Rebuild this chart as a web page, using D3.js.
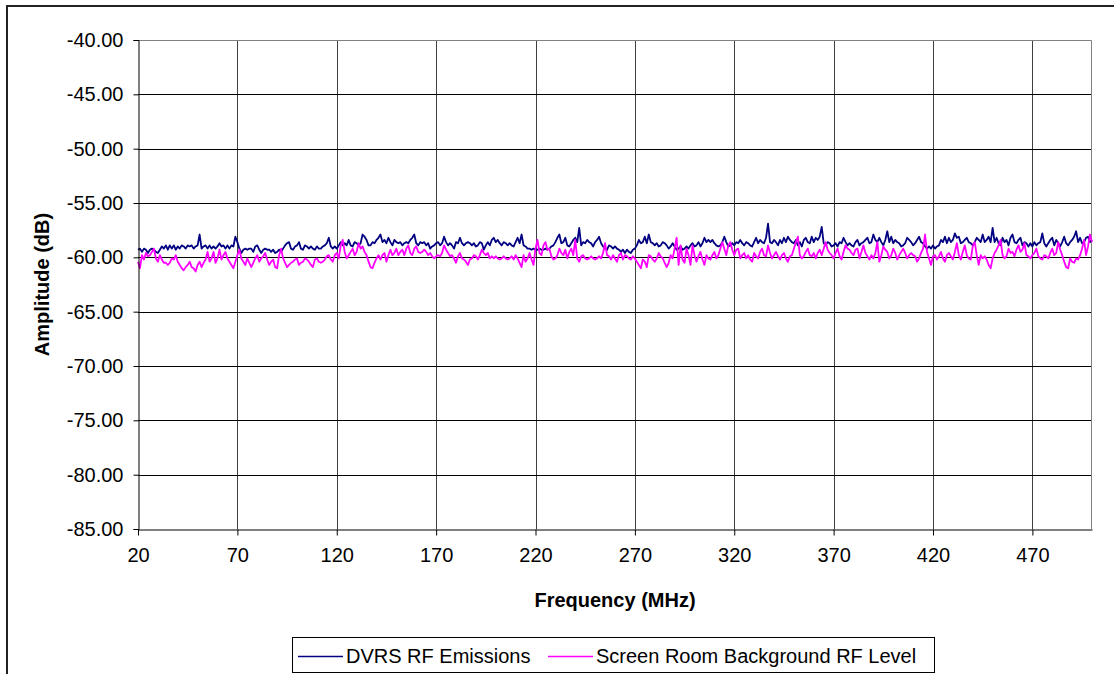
<!DOCTYPE html>
<html><head><meta charset="utf-8">
<script src="https://cdn.jsdelivr.net/npm/d3@7"></script>
<style>
body{margin:0;background:#fff}
svg{display:block}
text{font-family:"Liberation Sans",Arial,sans-serif;fill:#000}
</style>
</head><body>
<svg id="chart" width="1114" height="674"></svg>
<script>
// Frequency axis: one reading per MHz from 20 to 500 MHz
const freqStart = 20;
const freqStep = 1;

// DVRS RF Emissions (dB), 20..500 MHz
const dvrs = [
-59.3,-59.2,-59.5,-59.2,-59.3,-59.6,-59.3,-59.2,-59.3,-59.5,
-59.6,-59.3,-59.0,-59.2,-58.9,-59.3,-58.9,-59.2,-58.9,-59.3,
-59.0,-59.2,-58.9,-59.0,-59.2,-58.9,-59.0,-58.9,-59.2,-59.0,
-58.9,-57.9,-59.2,-59.0,-58.9,-59.2,-58.9,-59.2,-59.0,-59.2,
-59.0,-58.7,-59.0,-58.9,-59.2,-58.9,-59.2,-58.9,-59.0,-58.1,
-58.6,-59.2,-59.6,-59.3,-59.2,-59.3,-59.2,-59.2,-59.5,-59.0,
-58.9,-59.3,-59.6,-59.3,-59.2,-59.3,-59.3,-59.5,-59.3,-59.6,
-59.5,-59.3,-59.5,-59.2,-58.9,-58.7,-58.6,-59.2,-59.3,-59.0,
-58.9,-58.6,-59.2,-59.3,-58.9,-59.0,-59.2,-59.0,-59.2,-59.3,
-59.0,-59.2,-59.2,-59.0,-58.9,-58.7,-58.2,-59.0,-59.2,-59.0,
-59.2,-58.9,-58.6,-58.9,-58.7,-58.9,-58.4,-58.9,-59.0,-58.6,
-58.7,-58.9,-58.7,-57.9,-58.1,-58.4,-58.9,-58.9,-58.6,-58.7,
-58.4,-58.2,-57.9,-58.6,-58.4,-58.7,-58.2,-58.6,-58.9,-58.4,
-58.6,-58.7,-58.6,-58.9,-58.7,-58.6,-58.7,-58.4,-58.2,-57.9,
-58.7,-58.9,-58.6,-58.7,-58.6,-58.9,-58.7,-59.2,-59.0,-58.9,
-58.7,-58.6,-58.9,-58.7,-58.1,-58.6,-58.9,-58.7,-58.9,-59.2,
-58.6,-58.7,-58.2,-58.7,-58.9,-58.7,-58.6,-58.7,-58.9,-58.7,
-59.0,-58.9,-58.6,-58.7,-59.3,-58.9,-58.6,-58.9,-58.4,-58.2,
-58.6,-58.4,-58.7,-58.9,-58.6,-58.7,-58.9,-58.7,-58.9,-59.0,
-58.6,-58.2,-58.7,-57.9,-58.9,-59.0,-59.2,-59.2,-59.3,-59.2,
-59.3,-59.3,-59.2,-59.3,-59.3,-59.2,-59.3,-59.2,-59.0,-58.9,
-58.6,-58.2,-57.9,-58.7,-58.6,-58.2,-58.9,-59.0,-58.7,-58.4,
-58.2,-58.6,-57.3,-58.9,-58.6,-58.7,-58.4,-58.6,-58.7,-59.0,
-58.6,-58.4,-58.1,-58.7,-59.0,-59.2,-59.3,-58.9,-59.0,-59.2,
-59.0,-59.2,-59.3,-59.5,-59.3,-59.6,-59.3,-59.5,-59.6,-59.3,
-59.2,-58.9,-58.4,-58.7,-58.6,-58.1,-58.7,-57.9,-58.6,-58.7,
-58.9,-58.7,-59.0,-58.9,-58.6,-58.7,-58.9,-59.2,-59.0,-58.7,
-59.0,-59.3,-59.2,-59.0,-59.3,-59.2,-59.0,-59.2,-58.9,-58.7,
-59.0,-58.9,-58.6,-59.0,-58.7,-58.2,-58.6,-58.4,-58.6,-58.4,
-58.7,-58.9,-59.0,-58.9,-58.6,-58.1,-58.6,-59.0,-58.9,-58.7,
-58.9,-58.6,-58.7,-58.4,-58.7,-58.9,-58.6,-58.7,-58.9,-59.0,
-58.6,-58.2,-58.7,-58.4,-58.6,-58.7,-58.2,-56.9,-58.6,-58.7,
-58.4,-58.6,-58.9,-58.4,-58.7,-58.2,-58.6,-58.1,-58.4,-58.6,
-58.7,-58.4,-58.9,-58.6,-59.0,-58.4,-58.2,-58.6,-58.7,-58.1,
-58.6,-58.2,-58.4,-58.1,-57.2,-58.7,-58.9,-58.6,-58.7,-59.0,
-58.9,-58.7,-59.0,-58.6,-58.7,-58.2,-58.6,-58.9,-58.7,-58.9,
-59.0,-58.6,-58.4,-58.9,-58.7,-58.6,-58.4,-58.2,-58.7,-58.6,
-57.9,-58.4,-58.6,-58.2,-58.6,-58.9,-58.4,-57.6,-58.6,-58.1,
-58.7,-58.4,-58.6,-58.7,-59.0,-58.9,-58.7,-58.2,-58.4,-58.6,
-58.9,-58.7,-58.4,-58.1,-58.6,-58.7,-59.0,-59.2,-59.0,-59.2,
-58.9,-59.2,-59.0,-58.9,-58.4,-58.6,-58.1,-58.7,-58.2,-58.6,
-58.4,-57.8,-58.2,-58.1,-58.7,-58.6,-58.4,-58.2,-58.6,-58.7,
-58.9,-58.6,-58.2,-58.4,-58.6,-57.9,-58.6,-58.4,-58.1,-58.6,
-57.3,-58.6,-58.2,-58.7,-58.9,-58.2,-58.6,-58.4,-58.9,-58.2,
-57.9,-58.6,-58.7,-58.4,-58.2,-58.9,-58.6,-58.7,-59.0,-58.7,
-59.0,-58.6,-58.9,-58.7,-58.6,-57.8,-58.7,-59.0,-58.7,-58.4,
-58.2,-58.9,-58.4,-58.7,-59.0,-58.6,-58.1,-58.7,-58.9,-58.6,
-58.4,-58.1,-57.6,-58.6,-58.2,-58.7,-58.6,-58.2,-58.1,-58.6,
-58.4
];

// Screen Room Background RF Level (dB), 20..500 MHz
const background = [
-60.4,-61.0,-59.8,-60.2,-59.6,-59.9,-59.8,-59.5,-59.2,-60.1,
-60.4,-59.8,-60.2,-60.5,-60.5,-60.7,-60.5,-60.1,-60.2,-59.8,
-60.4,-60.7,-61.0,-61.2,-60.9,-60.7,-60.4,-60.9,-61.0,-61.3,
-60.7,-60.4,-60.9,-60.5,-60.2,-59.5,-60.4,-60.1,-59.5,-60.5,
-60.1,-59.3,-60.2,-59.8,-59.5,-60.1,-60.4,-60.7,-61.0,-60.4,
-59.8,-59.3,-60.1,-60.4,-60.7,-60.1,-60.5,-60.9,-60.5,-60.1,
-59.8,-60.4,-60.1,-59.9,-59.6,-60.2,-60.7,-60.4,-60.2,-60.9,
-61.0,-59.8,-59.2,-60.1,-60.5,-60.9,-60.7,-60.5,-60.4,-60.2,
-60.1,-60.7,-60.5,-60.4,-60.1,-60.2,-60.4,-60.7,-60.9,-60.2,
-60.1,-60.4,-60.5,-60.4,-60.2,-59.9,-59.8,-60.2,-60.4,-59.8,
-59.6,-60.1,-58.9,-58.4,-59.5,-60.1,-59.8,-59.5,-59.2,-59.8,
-59.5,-58.7,-59.2,-59.0,-59.5,-59.8,-60.4,-60.9,-61.0,-60.5,
-60.1,-59.8,-60.2,-59.8,-59.6,-60.4,-59.8,-59.3,-59.8,-59.6,
-59.2,-59.8,-59.5,-59.3,-59.8,-59.2,-58.9,-59.6,-59.8,-59.2,
-59.0,-59.5,-59.6,-59.5,-59.3,-59.5,-59.8,-59.6,-59.9,-60.1,
-59.9,-59.8,-59.9,-59.6,-58.9,-59.3,-59.6,-59.9,-59.8,-60.1,
-60.5,-59.9,-59.6,-60.1,-60.2,-60.4,-60.7,-60.2,-60.1,-59.8,
-59.9,-60.2,-59.8,-59.3,-59.6,-59.8,-59.6,-60.1,-59.9,-60.1,
-59.9,-60.1,-60.2,-60.1,-59.9,-60.1,-60.2,-60.1,-59.9,-60.2,
-59.8,-60.1,-60.5,-60.9,-59.8,-60.4,-60.1,-59.6,-60.2,-60.7,
-59.2,-58.4,-59.6,-59.8,-58.9,-58.6,-59.3,-59.2,-59.9,-60.2,
-60.1,-59.8,-59.2,-59.6,-59.8,-59.3,-60.1,-59.5,-59.2,-59.8,
-58.4,-60.1,-60.4,-59.9,-59.8,-60.1,-60.2,-60.1,-59.9,-60.1,
-60.2,-60.1,-59.9,-60.1,-59.6,-58.7,-59.8,-59.9,-60.2,-59.8,
-60.1,-60.4,-59.8,-59.6,-60.2,-59.8,-59.9,-60.1,-60.2,-59.9,
-60.1,-60.4,-60.7,-61.0,-60.2,-60.4,-60.9,-59.8,-59.9,-60.2,
-60.4,-60.1,-59.6,-59.9,-60.1,-60.5,-60.9,-60.5,-59.8,-60.1,
-59.2,-58.2,-60.7,-58.9,-60.2,-60.5,-59.2,-59.8,-60.7,-58.9,
-59.8,-60.4,-59.9,-59.5,-60.2,-60.7,-59.8,-60.1,-60.2,-59.8,
-59.5,-60.1,-59.8,-59.2,-58.6,-59.2,-59.8,-58.9,-58.6,-59.3,
-59.8,-59.3,-59.2,-60.1,-59.8,-59.6,-60.1,-59.8,-60.2,-60.4,
-59.6,-59.9,-60.1,-59.5,-59.2,-59.8,-59.9,-58.9,-59.6,-60.1,
-59.8,-59.5,-59.9,-60.2,-59.8,-59.6,-60.1,-60.4,-59.9,-59.8,
-59.2,-58.6,-58.1,-59.8,-60.1,-59.9,-59.5,-59.2,-59.8,-59.9,
-59.6,-60.1,-59.6,-59.3,-59.8,-59.2,-58.6,-59.3,-59.6,-59.8,
-60.1,-59.6,-59.2,-59.9,-60.2,-59.5,-58.9,-59.2,-59.3,-59.6,
-59.8,-59.3,-59.2,-60.1,-59.5,-58.9,-59.6,-59.9,-60.2,-59.8,
-60.1,-59.6,-58.6,-60.4,-59.8,-59.0,-59.3,-59.5,-60.1,-59.8,
-59.2,-59.6,-60.2,-59.8,-59.5,-59.2,-59.6,-60.1,-59.8,-59.6,
-59.8,-59.9,-60.4,-60.1,-59.6,-59.2,-57.9,-59.5,-60.1,-60.7,
-59.9,-59.8,-60.2,-59.9,-59.5,-60.1,-60.4,-59.8,-59.6,-59.9,
-60.2,-59.5,-58.7,-59.8,-60.2,-59.5,-58.9,-59.8,-60.1,-60.2,
-59.0,-58.6,-59.8,-60.7,-59.8,-60.1,-59.9,-60.2,-60.7,-61.0,
-60.1,-59.6,-59.3,-58.9,-58.4,-59.8,-60.1,-59.9,-59.2,-59.6,
-59.5,-59.9,-59.3,-58.9,-59.5,-59.3,-58.7,-59.8,-59.9,-60.1,
-59.8,-59.6,-59.2,-59.9,-60.1,-60.2,-59.8,-59.9,-60.1,-59.6,
-59.2,-59.8,-59.6,-58.6,-59.3,-59.8,-60.4,-60.9,-61.0,-60.1,
-60.4,-60.5,-60.1,-60.2,-59.8,-59.2,-58.4,-59.8,-59.0,-57.9,
-58.6
];

const seriesNames = ["DVRS RF Emissions", "Screen Room Background RF Level"];
const seriesColors = ["#000080", "#FF00FF"];
const xTickValues = [20, 70, 120, 170, 220, 270, 320, 370, 420, 470];
const yTickValues = [-85, -80, -75, -70, -65, -60, -55, -50, -45, -40];
const xTitle = "Frequency (MHz)";
const yTitle = "Amplitude (dB)";

const W = 1114, H = 674;
const plot = {left: 138, right: 1092, top: 40, bottom: 529};

const svg = d3.select("#chart");
svg.append("rect").attr("width", W).attr("height", H).attr("fill", "#fff");

// outer chart border
svg.append("rect").attr("x", 7).attr("y", 6).attr("width", 1300).attr("height", 1000)
  .attr("fill", "none").attr("stroke", "#222").attr("stroke-width", 2);

const x = d3.scaleLinear().domain([20, 500]).range([plot.left, plot.right]);
const y = d3.scaleLinear().domain([-85, -40]).range([plot.bottom, plot.top]);

// vertical gridlines
svg.append("g").selectAll("line").data(xTickValues.slice(1)).join("line")
  .attr("x1", d => Math.round(x(d)) + 0.5).attr("x2", d => Math.round(x(d)) + 0.5)
  .attr("y1", plot.top).attr("y2", plot.bottom)
  .attr("stroke", "#404040").attr("stroke-width", 1);
// horizontal gridlines
svg.append("g").selectAll("line").data(yTickValues.slice(1, -1)).join("line")
  .attr("x1", plot.left).attr("x2", plot.right)
  .attr("y1", d => Math.round(y(d)) + 0.5).attr("y2", d => Math.round(y(d)) + 0.5)
  .attr("stroke", "#000").attr("stroke-width", 1);
// top & right border of plot area
svg.append("path")
  .attr("d", `M${plot.left},${plot.top + 0.5}H${plot.right - 0.5}V${plot.bottom}`)
  .attr("fill", "none").attr("stroke", "#808080").attr("stroke-width", 1);

// series
const line = d3.line().x((d, i) => x(freqStart + i * freqStep)).y(d => y(d));
[dvrs, background].forEach((s, k) => {
  svg.append("path").datum(s).attr("d", line)
    .attr("fill", "none").attr("stroke", seriesColors[k])
    .attr("stroke-width", 1.8).attr("stroke-linejoin", "round");
});

// axes
const fmt = d3.format(".2f");
const yAxis = d3.axisLeft(y).tickValues(yTickValues)
  .tickFormat(d => fmt(d).replace("\u2212", "-")).tickSize(5).tickPadding(10);
const gy = svg.append("g").attr("transform", `translate(${plot.left + 0.5},0)`).call(yAxis);
gy.selectAll("text").style("font-size", "20px").attr("fill", "#000");
gy.selectAll("line,path").attr("stroke", "#000");

const xAxis = d3.axisBottom(x).tickValues(xTickValues).tickFormat(d3.format("d")).tickSize(6).tickSizeOuter(0).tickPadding(12);
const gx = svg.append("g").attr("transform", `translate(0,${plot.bottom + 0.5})`).call(xAxis);
gx.selectAll("text").style("font-size", "20px").attr("fill", "#000");
gx.selectAll("line,path").attr("stroke", "#000");

// axis titles
svg.append("text").attr("x", (plot.left + plot.right) / 2).attr("y", 607)
  .attr("text-anchor", "middle").style("font-size", "20px").style("font-weight", "bold").text(xTitle);
svg.append("text").attr("transform", `translate(49,${(plot.top + plot.bottom) / 2}) rotate(-90)`)
  .attr("text-anchor", "middle").style("font-size", "20px").style("font-weight", "bold").text(yTitle);

// legend
const lg = svg.append("g");
lg.append("rect").attr("x", 292.5).attr("y", 637.5).attr("width", 642).attr("height", 35)
  .attr("fill", "#fff").attr("stroke", "#000").attr("stroke-width", 1);
const legendItems = [
  {x0: 298, x1: 343, tx: 346},
  {x0: 548, x1: 593, tx: 596}
];
legendItems.forEach((it, k) => {
  lg.append("line").attr("x1", it.x0).attr("x2", it.x1).attr("y1", 656.5).attr("y2", 656.5)
    .attr("stroke", seriesColors[k]).attr("stroke-width", 1.5);
  lg.append("text").attr("x", it.tx).attr("y", 663).style("font-size", "20px").text(seriesNames[k]);
});
</script>
</body></html>
